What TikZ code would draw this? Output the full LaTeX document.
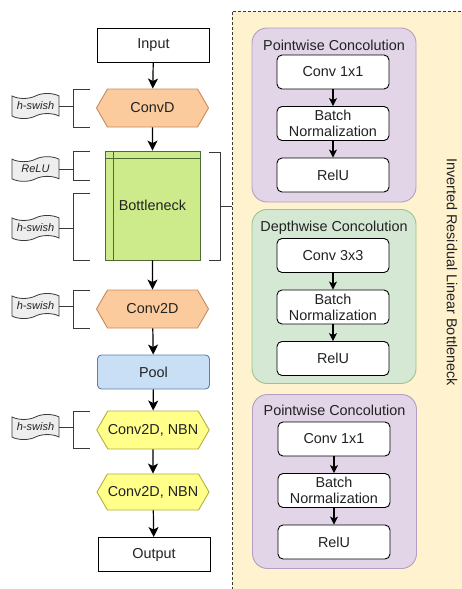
\documentclass[tikz,border=0pt]{standalone}
\usepackage{fontspec}
\setmainfont{Liberation Sans}
\usetikzlibrary{positioning, arrows.meta, shapes.symbols}

\definecolor{panelfill}{HTML}{FFF2CF}
\definecolor{edgegrey}{HTML}{36393D}
\definecolor{hexorange}{HTML}{FBCB9D}
\definecolor{hexorangeline}{HTML}{C9895A}
\definecolor{hexyellow}{HTML}{FFFF8A}
\definecolor{hexyellowline}{HTML}{B5AE3E}
\definecolor{poolblue}{HTML}{C9DFF5}
\definecolor{poolline}{HTML}{5E7FA8}
\definecolor{bneckgreen}{HTML}{CDEB8B}
\definecolor{bneckline}{HTML}{4D6B34}
\definecolor{grppurple}{HTML}{E1D5E7}
\definecolor{grppurpleline}{HTML}{B49CC2}
\definecolor{grpgreen}{HTML}{D5E8D4}
\definecolor{grpgreenline}{HTML}{9CC48A}
\definecolor{actgrey}{HTML}{EEEEEE}
\definecolor{textgrey}{HTML}{222222}

\begin{document}
\begin{tikzpicture}[x=1pt, y=-1pt, node distance=51.5pt,
    font=\fontsize{14.4}{16}\selectfont, text=textgrey,
    block/.style={draw=black, line width=0.9pt, fill=white, minimum width=112pt, minimum height=34pt},
    hexa/.style={signal, signal to=east and west, signal pointer angle=120, line width=0.9pt,
        minimum width=112pt, minimum height=38pt, inner sep=0pt},
    act/.style={tape, draw=edgegrey, fill=actgrey, line width=0.8pt, minimum width=47pt,
        tape bend height=5pt, inner xsep=1pt, inner ysep=3.5pt,
        font=\fontsize{11}{12}\selectfont\itshape},
    brk/.style={draw=edgegrey, line width=1pt},
    group/.style={rounded corners=15pt, line width=0.9pt, minimum width=164pt, minimum height=174pt},
    inbox/.style={draw=black, line width=0.9pt, fill=white, rounded corners=5pt, align=center,
        minimum width=112pt, minimum height=34pt, inner sep=1pt},
    arr/.style={-{Stealth[length=10pt, width=10pt, inset=2.5pt]}, line width=1.2pt},
    inarr/.style={-{Stealth[length=8pt, width=8pt, inset=2pt]}, line width=1.2pt}]

    \useasboundingbox (0,0) rectangle (462,589);

    % Dashed panel on the right
    \fill[panelfill] (232,11) rectangle (470,600);
    \draw[edgegrey, line width=0.9pt, dash pattern=on 3pt off 2pt] (232,600) -- (232,11) -- (470,11);

    % Main column
    \node [block] (Input) at (153.5,45) {Input};
    \node [hexa, draw=hexorangeline, fill=hexorange] (ConvD) at (152.5,108) {ConvD};
    \node [draw=bneckline, fill=bneckgreen, line width=0.9pt, minimum width=95pt, minimum height=109pt] (Bneck) at (152.5,205.5) {Bottleneck};
    \draw [bneckline, line width=0.9pt] ([xshift=9pt]Bneck.north west) -- ([xshift=9pt]Bneck.south west);
    \draw [bneckline, line width=0.9pt] ([yshift=-8pt]Bneck.north west) -- ([yshift=-8pt]Bneck.north east);
    \node [hexa, draw=hexorangeline, fill=hexorange] (ConvTwoD) at (152.5,309) {Conv2D};
    \node [block, rounded corners=4pt, draw=poolline, fill=poolblue] (Pool) at (153.5,372) {Pool};
    \node [hexa, draw=hexyellowline, fill=hexyellow] (NBNa) at (153,430) {Conv2D, NBN};
    \node [hexa, draw=hexyellowline, fill=hexyellow, minimum height=36pt] (NBNb) at (153,492) {Conv2D, NBN};
    \node [block] (Output) at (154,554.5) {Output};

    % Arrows down the column
    \draw [arr] (Input) -- (ConvD);
    \draw [arr] (ConvD) -- (Bneck);
    \draw [arr] (Bneck) -- (ConvTwoD);
    \draw [arr] (ConvTwoD) -- (Pool);
    \draw [arr] (Pool) -- (NBNa);
    \draw [arr] (NBNa) -- (NBNb);
    \draw [arr] (NBNb) -- (Output);

    % Activation labels and their brackets
    \node [act] (SwishA) at (35.5,106) {h-swish};
    \node [act] (ReluA) at (35.5,169) {ReLU};
    \node [act] (SwishB) at (35.5,228) {h-swish};
    \node [act] (SwishC) at (35.5,306) {h-swish};
    \node [act] (SwishD) at (35.5,427) {h-swish};

    \draw [brk] (90,89) -- (73,89) -- coordinate (BrkA) (73,127) -- (90,127);
    \draw [brk] (90,151) -- (73,151) -- coordinate (BrkB) (73,180) -- (90,180);
    \draw [brk] (90,193) -- (73,193) -- coordinate (BrkC) (73,260) -- (90,260);
    \draw [brk] (90,290) -- (73,290) -- coordinate (BrkD) (73,328) -- (90,328);
    \draw [brk] (90,411) -- (73,411) -- coordinate (BrkE) (73,448) -- (90,448);

    \draw [brk] (SwishA.east) -- (SwishA.east -| BrkA);
    \draw [brk] (ReluA.east) -- (ReluA.east -| BrkB);
    \draw [brk] (SwishB.east) -- (SwishB.east -| BrkC);
    \draw [brk] (SwishC.east) -- (SwishC.east -| BrkD);
    \draw [brk] (SwishD.east) -- (SwishD.east -| BrkE);

    % Bracket from the bottleneck to the panel
    \coordinate (PanelIn) at (232,206);
    \draw [brk] (209,152) -- (220,152) -- coordinate (BrkF) (220,260) -- (209,260);
    \draw [brk] (BrkF) -- (PanelIn);

    % First pointwise group
    \node [group, draw=grppurpleline, fill=grppurple] (PwA) at (334,115) {};
    \node (PwAtitle) at (334,45) {Pointwise Concolution};
    \node [inbox] (PwAconv) at (333,72) {Conv 1x1};
    \node [inbox, below of=PwAconv] (PwAbn) {Batch\\Normalization};
    \node [inbox, below of=PwAbn] (PwArelu) {RelU};
    \draw [inarr] (PwAconv) -- (PwAbn);
    \draw [inarr] (PwAbn) -- (PwArelu);

    % Depthwise group
    \node [group, draw=grpgreenline, fill=grpgreen] (Dw) at (334,296.5) {};
    \node (Dwtitle) at (334,228) {Depthwise Concolution};
    \node [inbox] (Dwconv) at (333,255.5) {Conv 3x3};
    \node [inbox, below of=Dwconv] (Dwbn) {Batch\\Normalization};
    \node [inbox, below of=Dwbn] (Dwrelu) {RelU};
    \draw [inarr] (Dwconv) -- (Dwbn);
    \draw [inarr] (Dwbn) -- (Dwrelu);

    % Second pointwise group
    \node [group, draw=grppurpleline, fill=grppurple] (PwB) at (334.5,481.5) {};
    \node (PwBtitle) at (334.5,410) {Pointwise Concolution};
    \node [inbox] (PwBconv) at (334,439) {Conv 1x1};
    \node [inbox, below of=PwBconv] (PwBbn) {Batch\\Normalization};
    \node [inbox, below of=PwBbn] (PwBrelu) {RelU};
    \draw [inarr] (PwBconv) -- (PwBbn);
    \draw [inarr] (PwBbn) -- (PwBrelu);

    % Side title
    \node [rotate=-90] (IRLB) at (452,272) {Inverted Residual Linear Bottleneck};
\end{tikzpicture}
\end{document}
